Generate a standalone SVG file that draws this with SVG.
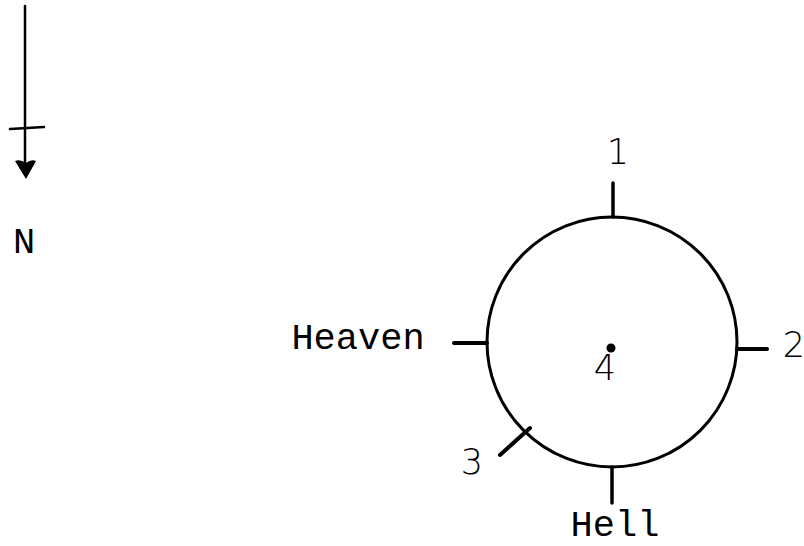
<svg xmlns="http://www.w3.org/2000/svg" width="804" height="546" viewBox="0 0 804 546">
<style>
.ln{stroke:#000;fill:none;stroke-linecap:round}
.tw{font-family:"Liberation Mono","DejaVu Sans Mono",monospace;font-size:37px;fill:#000}
.hd{font-family:"DejaVu Sans","Liberation Sans",sans-serif;font-weight:200;font-size:35px;fill:#000}
</style>
<rect width="804" height="546" fill="#fff"/>
<g id="north">
<line class="ln" x1="25" y1="6" x2="25" y2="168" stroke-width="2.5"/>
<line class="ln" x1="10" y1="129" x2="44" y2="127" stroke-width="2.5"/>
<path d="M15 161 Q20 159 26 163 Q31 159 36 161 L26 179 Z" fill="#000"/>
<text class="tw" x="24" y="253" text-anchor="middle">N</text>
</g>
<g id="circle">
<circle class="ln" cx="612" cy="342" r="125" stroke-width="3"/>
<circle cx="611" cy="348" r="4.5" fill="#000"/>
<text class="hd" x="605" y="380" text-anchor="middle">4</text>
</g>
<g id="connectors">
<line class="ln" x1="613" y1="183" x2="613" y2="217" stroke-width="3.5"/>
<line class="ln" x1="737" y1="349" x2="767" y2="349" stroke-width="4"/>
<line class="ln" x1="454" y1="343" x2="487" y2="343" stroke-width="4"/>
<line class="ln" x1="612" y1="467" x2="612" y2="503" stroke-width="3.5"/>
<line class="ln" x1="500" y1="455" x2="530" y2="428" stroke-width="4"/>
</g>
<g id="labels">
<text class="hd" x="618" y="164" text-anchor="middle">1</text>
<text class="hd" x="794" y="357" text-anchor="middle">2</text>
<text class="hd" x="472" y="474" text-anchor="middle">3</text>
<text class="tw" x="358" y="349" text-anchor="middle">Heaven</text>
<text class="tw" x="615" y="536" text-anchor="middle" font-size="36">Hell</text>
</g>
</svg>
